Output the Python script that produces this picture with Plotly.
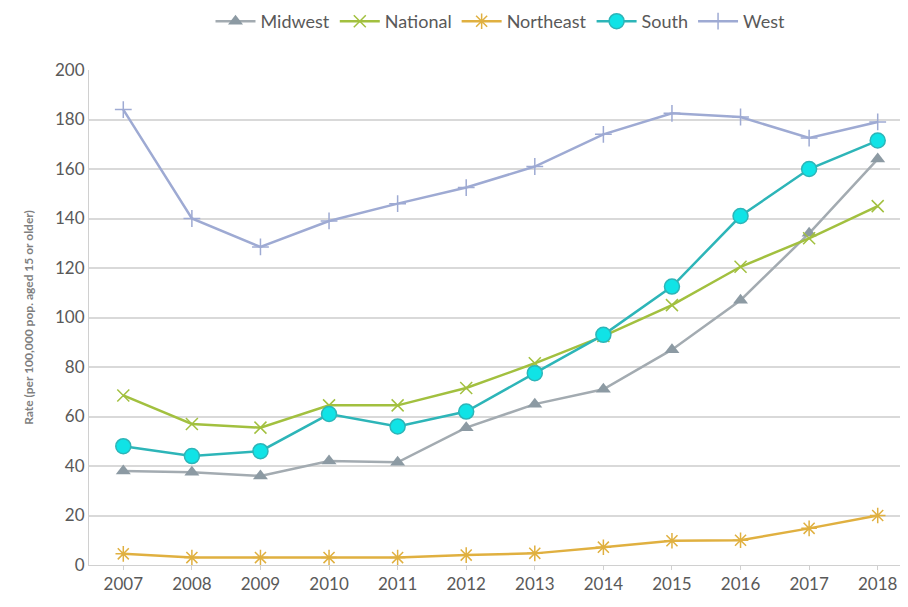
import plotly.graph_objects as go

years = ['2007', '2008', '2009', '2010', '2011', '2012', '2013', '2014', '2015', '2016', '2017', '2018']

midwest = [38, 37.5, 36, 42, 41.5, 55.5, 65, 71, 87, 107, 134, 164]
national = [68.5, 57, 55.5, 64.5, 64.5, 71.5, 81.5, 92.5, 105, 120.5, 132, 145]
northeast = [4.5, 3, 3, 3, 3, 4, 4.7, 7.2, 9.8, 10, 14.8, 20]
south = [48, 44, 46, 61, 56, 62, 77.5, 93, 112.5, 141, 160, 171.5]
west = [184, 140, 128.5, 139, 146, 152.5, 161, 174, 182.5, 181, 172.5, 179]

fig = go.Figure()

fig.add_trace(go.Scatter(x=years, y=midwest, name='Midwest', mode='lines+markers',
                         line=dict(color='#A3ABB1', width=2.5),
                         marker=dict(symbol='triangle-up', size=13, color='#8C9AA3')))
fig.add_trace(go.Scatter(x=years, y=national, name='National', mode='lines+markers',
                         line=dict(color='#A2C03F', width=2.5),
                         marker=dict(symbol='x-thin', size=12, color='#A2C03F',
                                     line=dict(color='#A2C03F', width=1.5))))
fig.add_trace(go.Scatter(x=years, y=northeast, name='Northeast', mode='lines+markers',
                         line=dict(color='#E0B040', width=2.5),
                         marker=dict(symbol='asterisk', size=13, color='#E0B040',
                                     line=dict(color='#E0B040', width=1.5))))
fig.add_trace(go.Scatter(x=years, y=south, name='South', mode='lines+markers',
                         line=dict(color='#2DB5B8', width=2.5),
                         marker=dict(symbol='circle', size=15, color='#10E3E6',
                                     line=dict(color='#2DB5B8', width=1.5))))
fig.add_trace(go.Scatter(x=years, y=west, name='West', mode='lines+markers',
                         line=dict(color='#9EAAD3', width=2.5),
                         marker=dict(symbol='cross-thin', size=12, color='#9EAAD3',
                                     line=dict(color='#9EAAD3', width=1.5))))

fig.update_xaxes(type='category', range=[-0.5, 11.5], showgrid=False,
                 showline=True, linecolor='#D0D0D0', linewidth=1,
                 ticks='outside', ticklen=4, tickcolor='#D0D0D0', automargin=False,
                 tickfont=dict(size=17, color='#595959'))
fig.update_yaxes(range=[0, 200], dtick=20, showgrid=True, gridcolor='#D9D9D9', gridwidth=1.5,
                 showline=True, linecolor='#D0D0D0', linewidth=1, zeroline=False,
                 tickfont=dict(size=17, color='#595959'), automargin=False,
                 title=dict(text='<b>Rate (per 100,000 pop. aged 15 or older)</b>',
                            font=dict(size=12, color='#7F7F7F'), standoff=18))

fig.update_layout(
    width=908, height=607,
    font=dict(family='Lato, Open Sans, sans-serif'),
    paper_bgcolor='white', plot_bgcolor='white',
    margin=dict(l=81, r=4, t=62, b=50, autoexpand=False),
    legend=dict(orientation='h', x=0.5, xanchor='center', y=1.098, yanchor='middle',
                font=dict(size=18, color='#595959'), itemwidth=40),
)

fig.write_html("out.html")
